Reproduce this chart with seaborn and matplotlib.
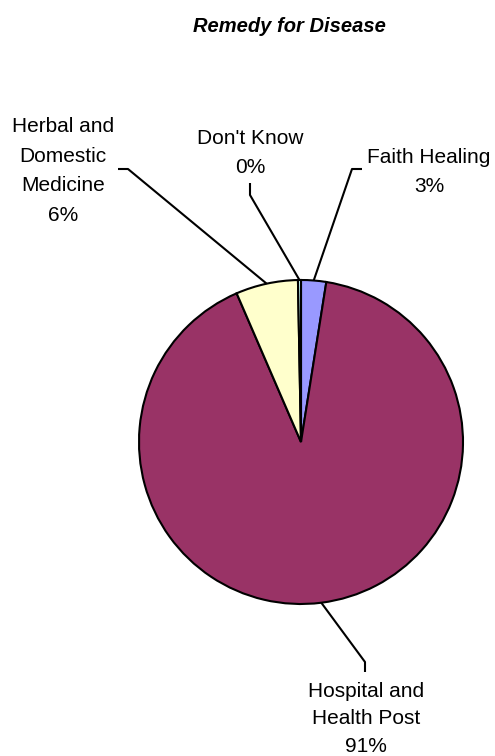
# Remedy for Disease - pie chart with leader lines
import numpy as np
import matplotlib
matplotlib.use("Agg")
import matplotlib.pyplot as plt
import seaborn as sns

# %%
# Data
categories = ["Faith Healing", "Hospital and\nHealth Post", "Herbal and\nDomestic\nMedicine", "Don't Know"]
shares = [2.5, 91.0, 6.2, 0.3]
pct_labels = ["3%", "91%", "6%", "0%"]
colors = ["#9999FF", "#993366", "#FFFFCC", "#CCFFFF"]

# %%
sns.set_theme(style="white")
plt.rcParams['font.family'] = ['Liberation Sans', 'DejaVu Sans']

W, H = 495, 756
fig = plt.figure(figsize=(W / 100, H / 100), dpi=100)
ax = fig.add_axes([0, 0, 1, 1])

cx, cy, r = 301, H - 442, 162
wedges, _ = ax.pie(shares, colors=colors, startangle=90, counterclock=False,
                   center=(cx, cy), radius=r, frame=True,
                   wedgeprops=dict(edgecolor='black', linewidth=1.5))
ax.set_xlim(0, W)
ax.set_ylim(0, H)
ax.set_aspect('equal')
ax.axis('off')

# label block centres, line spacing and leader elbows (image px, y down)
text_pos = [(429, 172), (366, 719), (63, 171), (250, 153)]
spacing = [1.7, 1.55, 1.7, 1.7]
elbows = [[(352, 169), (362, 169)],
          [(365, 662), (365, 672)],
          [(128, 169), (118, 169)],
          [(250, 195), (250, 183)]]

for w, cat, pct, tp, ls, el in zip(wedges, categories, pct_labels, text_pos, spacing, elbows):
    mid = np.deg2rad((w.theta1 + w.theta2) / 2)
    rim = (cx + r * np.cos(mid), cy + r * np.sin(mid))
    xs = [rim[0]] + [p[0] for p in el]
    ys = [rim[1]] + [H - p[1] for p in el]
    ax.plot(xs, ys, color='black', lw=1.5, solid_capstyle='butt')
    ax.text(tp[0], H - tp[1], f"{cat}\n{pct}", ha='center', va='center',
            fontsize=15, linespacing=ls, color='black')

ax.text(289, H - 32, "Remedy for Disease", ha='center', va='baseline',
        fontsize=14.5, fontweight='bold', fontstyle='italic', color='black')

fig.savefig("out.png", dpi=100)
